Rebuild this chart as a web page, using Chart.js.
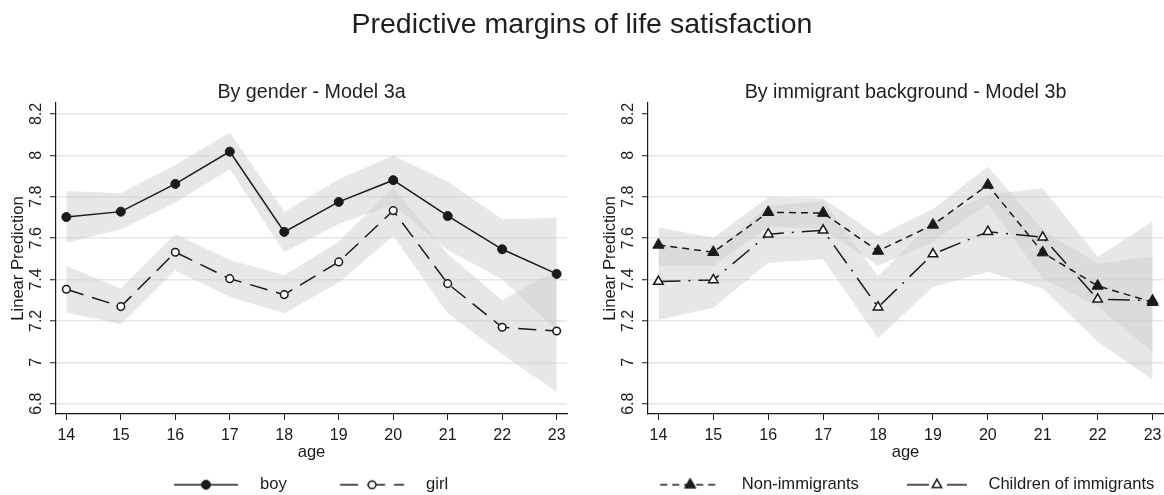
<!DOCTYPE html>
<html>
<head>
<meta charset="utf-8">
<script src="https://cdn.jsdelivr.net/npm/chart.js@4.4.1/dist/chart.umd.min.js"></script>
<style>
html,body{margin:0;padding:0;background:#fff;overflow:hidden;width:1164px;height:495px;}
#wrap{position:relative;width:1164px;height:495px;overflow:hidden;background:#fff;font-family:'Liberation Sans',Arial,sans-serif;color:#1e1e1e;}
#title{position:absolute;left:0;top:6px;width:1164px;text-align:center;font-size:28.5px;line-height:34px;white-space:nowrap;}
.sub{position:absolute;top:79px;width:600px;text-align:center;font-size:19.7px;line-height:24px;white-space:nowrap;}
#sub1{left:11.5px;}
#sub2{left:605.5px;}
#box1{position:absolute;left:0;top:0;width:577px;height:503px;}
#box2{position:absolute;left:592px;top:0;width:581px;height:503px;}
canvas{display:block;}
</style>
</head>
<body>
<div id="wrap">
  <div id="box1"><canvas id="c1" width="577" height="503"></canvas></div>
  <div id="box2"><canvas id="c2" width="581" height="503"></canvas></div>
  <div id="title">Predictive margins of life satisfaction</div>
  <div class="sub" id="sub1">By gender - Model 3a</div>
  <div class="sub" id="sub2">By immigrant background - Model 3b</div>
</div>
<script>
// ---------- data ----------
const ages = [14, 15, 16, 17, 18, 19, 20, 21, 22, 23];
const yTicks = [6.8, 7.0, 7.2, 7.4, 7.6, 7.8, 8.0, 8.2];

const boy    = [7.702, 7.728, 7.862, 8.018, 7.630, 7.775, 7.880, 7.707, 7.546, 7.427];
const boyHi  = [7.828, 7.817, 7.953, 8.111, 7.728, 7.884, 7.999, 7.873, 7.691, 7.699];
const boyLo  = [7.578, 7.643, 7.771, 7.934, 7.532, 7.668, 7.761, 7.541, 7.401, 7.155];
const girl   = [7.353, 7.269, 7.532, 7.404, 7.327, 7.485, 7.733, 7.380, 7.169, 7.151];
const girlHi = [7.465, 7.357, 7.620, 7.494, 7.420, 7.583, 7.845, 7.523, 7.301, 7.444];
const girlLo = [7.240, 7.184, 7.443, 7.317, 7.237, 7.385, 7.612, 7.237, 7.037, 6.858];

const nonImm   = [7.567, 7.532, 7.725, 7.721, 7.538, 7.664, 7.857, 7.530, 7.369, 7.290];
const nonImmHi = [7.652, 7.602, 7.797, 7.792, 7.612, 7.741, 7.945, 7.639, 7.475, 7.514];
const nonImmLo = [7.465, 7.465, 7.655, 7.647, 7.465, 7.583, 7.765, 7.406, 7.270, 7.048];
const child    = [7.390, 7.398, 7.619, 7.638, 7.266, 7.523, 7.631, 7.604, 7.304, 7.298];
const childHi  = [7.575, 7.527, 7.757, 7.778, 7.416, 7.681, 7.810, 7.841, 7.510, 7.680];
const childLo  = [7.204, 7.264, 7.481, 7.498, 7.116, 7.365, 7.438, 7.357, 7.100, 6.914];

const labelsLeft = ['boy', 'girl'];
const labelsRight = ['Non-immigrants', 'Children of immigrants'];

// ---------- styling ----------
const FONT = "'Liberation Sans', Arial, sans-serif";
const INK = '#1a1a1a';
const BAND = 'rgba(203,204,207,0.48)';
const GRID = '#e6e6e6';
Chart.defaults.font.family = FONT;
Chart.defaults.color = INK;

const pts = arr => arr.map((v, i) => ({x: ages[i], y: v}));

const styles = {
  boy:   {dash: [], pointStyle: 'circle', radius: 4.5, fill: INK, bw: 1},
  girl:  {dash: [18, 9], pointStyle: 'circle', radius: 3.8, fill: '#fff', bw: 1.5},
  non:   {dash: [7, 5], pointStyle: 'triangle', radius: 6.5, fill: INK, bw: 1},
  child: {dash: [22, 8, 2, 8], pointStyle: 'triangle', radius: 5.5, fill: '#fff', bw: 1.5}
};

function lineDs(label, arr, st) {
  return {
    label, data: pts(arr), borderColor: INK, borderWidth: 1.5, borderDash: st.dash,
    pointStyle: st.pointStyle, pointRadius: st.radius, pointHoverRadius: st.radius,
    pointBackgroundColor: st.fill, pointBorderColor: INK, pointBorderWidth: st.bw,
    fill: false, tension: 0
  };
}
function bandDs(arr, target) {
  return {
    label: '_band', data: pts(arr), borderColor: 'rgba(0,0,0,0)', borderWidth: 0,
    pointRadius: 0, backgroundColor: BAND, fill: target === null ? false : {target},
    tension: 0
  };
}

function legendImg(w, o, L, st) {
  const c = document.createElement('canvas');
  c.width = Math.round(w); c.height = 18;
  const g = c.getContext('2d');
  g.strokeStyle = INK; g.lineWidth = 1.5; g.setLineDash(st.dash);
  g.beginPath(); g.moveTo(o, 9); g.lineTo(o + L, 9); g.stroke();
  g.setLineDash([]);
  g.fillStyle = st.fill; g.strokeStyle = INK; g.lineWidth = st.bw;
  Chart.helpers.drawPoint(g, {pointStyle: st.pointStyle, radius: st.radius, borderWidth: st.bw, rotation: 0}, o + L / 2, 9);
  return c;
}

function makeChart(id, lines, bands, legendNames, legendStyles, lg, hideTopGrid) {
  const datasets = [];
  lines.forEach(l => datasets.push(lineDs(l.label, l.data, l.st)));
  bands.forEach(b => {
    const hiIdx = datasets.length;
    datasets.push(bandDs(b.hi, hiIdx + 1));
    datasets.push(bandDs(b.lo, null));
  });
  const imgs = legendStyles.map(st => legendImg(lg.B, lg.o, lg.L, st));
  return new Chart(document.getElementById(id), {
    type: 'line',
    data: {datasets},
    options: {
      responsive: false, animation: false, devicePixelRatio: 1,
      layout: {padding: {left: lg.padL, right: 10, top: 103, bottom: 0}},
      plugins: {
        tooltip: {enabled: false},
        title: {display: false},
        legend: {
          display: true, position: 'bottom',
          labels: {
            usePointStyle: true, pointStyleWidth: lg.B, padding: 0, color: INK,
            font: {size: 16.6, family: FONT},
            generateLabels: () => legendNames.map((t, i) => ({
              text: t, pointStyle: imgs[i], rotation: 0, hidden: false, datasetIndex: i,
              fillStyle: 'rgba(0,0,0,0)', strokeStyle: 'rgba(0,0,0,0)', lineWidth: 0, fontColor: INK
            }))
          }
        },
        filler: {propagate: false}
      },
      scales: {
        x: {
          type: 'linear', min: 13.81, max: 23.19,
          afterBuildTicks: s => { s.ticks = ages.map(v => ({value: v})); },
          afterFit: s => { s.height = 62.4; },
          ticks: {autoSkip: false, maxRotation: 0, padding: 6, color: INK, font: {size: 16, family: FONT},
                  callback: v => String(v)},
          grid: {drawOnChartArea: false, drawTicks: true, tickLength: 6, color: INK, tickColor: INK, tickWidth: 1},
          border: {display: true, color: INK, width: 1.2},
          title: {display: true, text: 'age', color: INK, font: {size: 16.6, family: FONT}, padding: {top: 0, bottom: 14.4}}
        },
        y: {
          type: 'linear', min: 6.75, max: 8.253,
          afterBuildTicks: s => { s.ticks = yTicks.map(v => ({value: v})); },
          afterFit: s => { s.width = 56 - lg.padL; },
          ticks: {autoSkip: false, minRotation: 90, maxRotation: 90, crossAlign: 'center', padding: 2,
                  color: INK, font: {size: 16, family: FONT},
                  callback: v => String(Number(v.toFixed(1)))},
          grid: {drawOnChartArea: true, drawTicks: true, tickLength: 6, lineWidth: 1.5,
                 color: c => (hideTopGrid && c.tick && Math.abs(c.tick.value - 8.2) < 1e-6) ? 'rgba(0,0,0,0)' : GRID,
                 tickColor: INK, tickWidth: 1},
          border: {display: true, color: INK, width: 1.2},
          title: {display: true, text: 'Linear Prediction', color: INK, font: {size: 16.6, family: FONT},
                  padding: {top: 18 - lg.padL - 9.96, bottom: 0}}
        }
      }
    }
  });
}

makeChart('c1',
  [{label: labelsLeft[0], data: boy, st: styles.boy}, {label: labelsLeft[1], data: girl, st: styles.girl}],
  [{hi: boyHi, lo: boyLo}, {hi: girlHi, lo: girlLo}],
  labelsLeft, [styles.boy, styles.girl], {B: 131, o: 53.2, L: 64, padL: 2}, false);

makeChart('c2',
  [{label: labelsRight[0], data: nonImm, st: styles.non}, {label: labelsRight[1], data: child, st: styles.child}],
  [{hi: nonImmHi, lo: nonImmLo}, {hi: childHi, lo: childLo}],
  labelsRight, [styles.non, styles.child], {B: 121.3, o: 47.9, L: 60, padL: 11.5}, true);
</script>
</body>
</html>
